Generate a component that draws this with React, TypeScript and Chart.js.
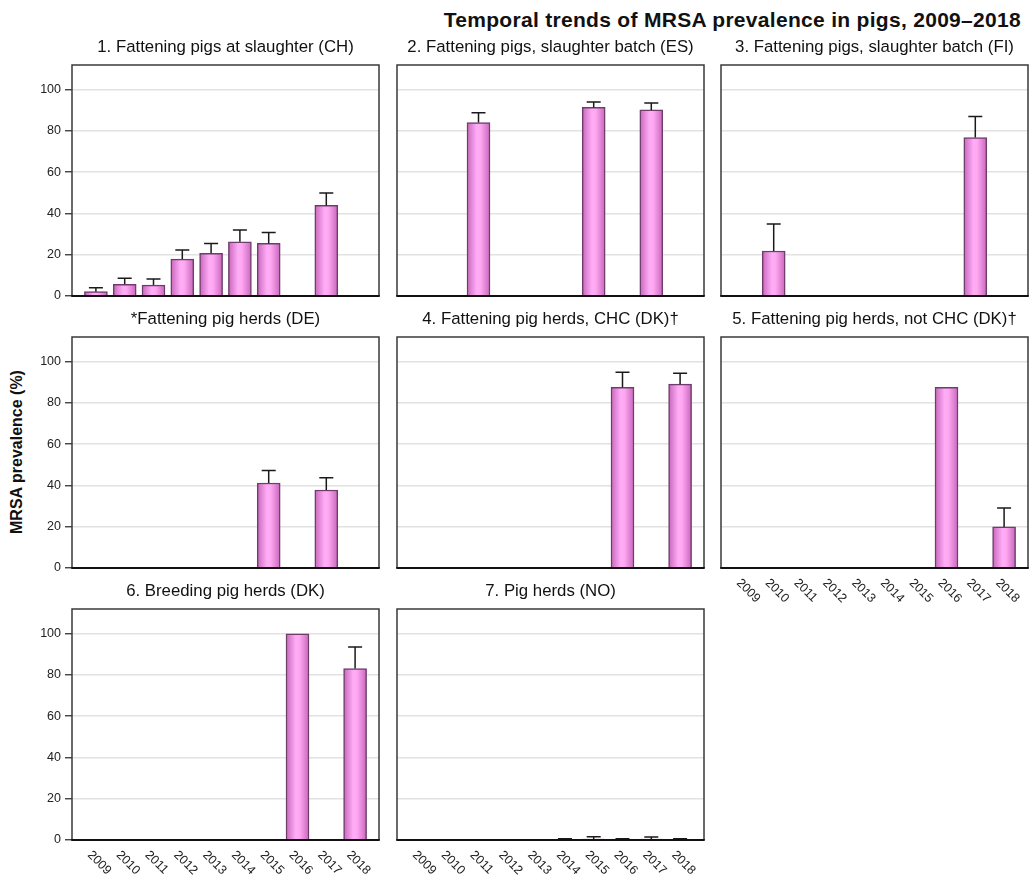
import React, { useEffect, useRef } from 'react';
import { Chart, registerables } from 'chart.js';

Chart.register(...registerables);

// ---------- data ----------
const years = ['2009', '2010', '2011', '2012', '2013', '2014', '2015', '2016', '2017', '2018'];
const yTicks = [0, 20, 40, 60, 80, 100];
const chartTitle = 'Temporal trends of MRSA prevalence in pigs, 2009–2018';
const yAxisTitle = 'MRSA prevalence (%)';
const panelTitles = [
  '1. Fattening pigs at slaughter (CH)',
  '2. Fattening pigs, slaughter batch (ES)',
  '3. Fattening pigs, slaughter batch (FI)',
  '*Fattening pig herds (DE)',
  '4. Fattening pig herds, CHC (DK)†',
  '5. Fattening pig herds, not CHC (DK)†',
  '6. Breeding pig herds (DK)',
  '7. Pig herds (NO)',
];

const chValues = [2.1, 5.7, 5.3, 17.9, 20.7, 26.3, 25.5, null, 43.9, null];
const chUpper = [4.0, 8.6, 8.2, 22.3, 25.5, 32.0, 30.8, null, 49.9, null];

const esValues = [null, null, 84.1, null, null, null, 91.4, null, 90.2, null];
const esUpper = [null, null, 88.8, null, null, null, 94.1, null, 93.6, null];

const fiValues = [null, 21.8, null, null, null, null, null, null, 76.8, null];
const fiUpper = [null, 34.9, null, null, null, null, null, null, 87.0, null];

const deValues = [null, null, null, null, null, null, 41.2, null, 37.8, null];
const deUpper = [null, null, null, null, null, null, 47.3, null, 43.8, null];

const dkChcValues = [null, null, null, null, null, null, null, 87.6, null, 89.1];
const dkChcUpper = [null, null, null, null, null, null, null, 94.9, null, 94.4];

const dkNotChcValues = [null, null, null, null, null, null, null, 87.6, null, 19.9];
const dkNotChcUpper = [null, null, null, null, null, null, null, null, null, 29.1];

const dkBreedValues = [null, null, null, null, null, null, null, 100, null, 83.1];
const dkBreedUpper = [null, null, null, null, null, null, null, null, null, 93.5];

const noValues = [null, null, null, null, null, 0.1, 0.5, 0.1, 0.5, 0.1];
const noUpper = [null, null, null, null, null, 0.6, 1.6, 0.6, 1.5, 0.6];

// ---------- layout / style ----------
const FONT = '"Liberation Sans", Arial, Helvetica, sans-serif';
const FRAME_LEFTS = [72, 397, 721];
const FRAME_TOPS = [65, 337, 609];
const FRAME_W = 307;
const FRAME_H = 231;
const AXIS_W = 72;
const TITLE_H = 32;
const BOTTOM_H = 45;
const RIGHT_PAD = 1;

type PanelDef = {
  title: string;
  values: (number | null)[];
  upper: (number | null)[];
  row: number;
  col: number;
  showY: boolean;
  showX: boolean;
};

const panels: PanelDef[] = [
  { title: panelTitles[0], values: chValues, upper: chUpper, row: 0, col: 0, showY: true, showX: false },
  { title: panelTitles[1], values: esValues, upper: esUpper, row: 0, col: 1, showY: false, showX: false },
  { title: panelTitles[2], values: fiValues, upper: fiUpper, row: 0, col: 2, showY: false, showX: false },
  { title: panelTitles[3], values: deValues, upper: deUpper, row: 1, col: 0, showY: true, showX: false },
  { title: panelTitles[4], values: dkChcValues, upper: dkChcUpper, row: 1, col: 1, showY: false, showX: false },
  { title: panelTitles[5], values: dkNotChcValues, upper: dkNotChcUpper, row: 1, col: 2, showY: false, showX: true },
  { title: panelTitles[6], values: dkBreedValues, upper: dkBreedUpper, row: 2, col: 0, showY: true, showX: true },
  { title: panelTitles[7], values: noValues, upper: noUpper, row: 2, col: 1, showY: false, showX: true },
];

const BAR_W = 23;

function PanelChart({ p }: { p: PanelDef }) {
  const ref = useRef<HTMLCanvasElement>(null);

  useEffect(() => {
    const canvas = ref.current;
    if (!canvas) return;

    const points = years
      .map((_, i) => ({ x: i, y: p.values[i] }))
      .filter((d) => d.y !== null && d.y !== undefined) as { x: number; y: number }[];

    const panelPlugin = {
      id: 'panelDecor',
      beforeDatasetsDraw(chart: any) {
        const { ctx } = chart;
        const meta = chart.getDatasetMeta(0);
        meta.data.forEach((el: any) => {
          const x = el.x;
          const w = el.width || BAR_W;
          if (!isFinite(x) || !isFinite(w)) return;
          const g = ctx.createLinearGradient(x - w / 2, 0, x + w / 2, 0);
          g.addColorStop(0, '#c766bb');
          g.addColorStop(0.42, '#ffacf6');
          g.addColorStop(0.58, '#ffa8f2');
          g.addColorStop(1, '#c866bc');
          el.options = Object.assign({}, el.options, { backgroundColor: g });
        });
      },
      afterDatasetsDraw(chart: any) {
        const { ctx, scales } = chart;
        const xs = scales.x;
        const ys = scales.y;
        ctx.save();
        ctx.strokeStyle = '#1a1a1a';
        ctx.lineWidth = 1.5;
        p.upper.forEach((u, i) => {
          const v = p.values[i];
          if (u === null || u === undefined || v === null || v === undefined) return;
          const x = xs.getPixelForValue(i);
          const y1 = ys.getPixelForValue(v);
          const y2 = ys.getPixelForValue(u);
          ctx.beginPath();
          ctx.moveTo(x, y1);
          ctx.lineTo(x, y2);
          ctx.moveTo(x - 7, y2);
          ctx.lineTo(x + 7, y2);
          ctx.stroke();
        });
        ctx.restore();
      },
      afterDraw(chart: any) {
        const { ctx, chartArea, scales } = chart;
        const { left, right, top, bottom } = chartArea;
        ctx.save();
        ctx.strokeStyle = '#3a3a3a';
        ctx.lineWidth = 1.5;
        ctx.beginPath();
        ctx.moveTo(left, bottom);
        ctx.lineTo(left, top);
        ctx.lineTo(right, top);
        ctx.lineTo(right, bottom);
        ctx.stroke();
        ctx.strokeStyle = '#111';
        ctx.lineWidth = 2;
        ctx.beginPath();
        ctx.moveTo(left - 0.75, bottom);
        ctx.lineTo(right + 0.75, bottom);
        ctx.stroke();

        if (p.showX) {
          const xs = scales.x;
          ctx.fillStyle = '#222';
          ctx.font = `12.5px ${FONT}`;
          ctx.textAlign = 'left';
          ctx.textBaseline = 'middle';
          years.forEach((lab, i) => {
            const cx = xs.getPixelForValue(i);
            ctx.save();
            ctx.translate(cx - 6.5, bottom + 13);
            ctx.rotate(Math.PI / 4);
            ctx.fillText(lab, 0, 0);
            ctx.restore();
          });
        }
        ctx.restore();
      },
    };

    const chart = new Chart(canvas, {
      type: 'bar',
      data: {
        datasets: [
          {
            data: points as any,
            barThickness: BAR_W,
            borderWidth: 1.5,
            borderColor: '#6e3d6c',
            backgroundColor: '#f2a0e6',
            borderSkipped: 'start',
          },
        ],
      },
      options: {
        responsive: false,
        animation: false,
        events: [],
        layout: { padding: { left: 0, right: RIGHT_PAD, top: 0, bottom: 0 } },
        plugins: {
          legend: { display: false },
          tooltip: { enabled: false },
          title: {
            display: true,
            text: p.title,
            fullSize: false,
            color: '#111',
            font: { family: FONT, size: 16.8, weight: 'normal', lineHeight: 1.2 },
            padding: { top: 4.4, bottom: 7.4 },
          },
        },
        scales: {
          x: {
            type: 'linear',
            offset: false,
            min: -0.83,
            max: 9.83,
            display: true,
            ticks: { display: false },
            grid: { display: false, drawTicks: false, offset: false },
            border: { display: false },
            afterFit: (s: any) => {
              s.height = BOTTOM_H;
            },
          },
          y: {
            min: 0,
            max: 112,
            afterBuildTicks: (s: any) => {
              s.ticks = yTicks.map((v) => ({ value: v }));
            },
            afterFit: (s: any) => {
              s.width = AXIS_W;
            },
            ticks: {
              display: p.showY,
              color: '#222',
              padding: 4,
              font: { family: FONT, size: 12.5 },
            },
            grid: {
              color: '#e2e2e2',
              lineWidth: 1.5,
              drawTicks: p.showY,
              tickLength: 7,
              tickColor: '#333',
              tickWidth: 1.3,
            },
            border: { display: false },
          },
        },
      },
      plugins: [panelPlugin],
    } as any);

    return () => chart.destroy();
  }, [p]);

  const left = FRAME_LEFTS[p.col] - AXIS_W;
  const top = FRAME_TOPS[p.row] - TITLE_H;
  const width = AXIS_W + FRAME_W + RIGHT_PAD;
  const height = TITLE_H + FRAME_H + BOTTOM_H;

  return (
    <canvas
      ref={ref}
      width={width}
      height={height}
      style={{ position: 'absolute', left, top, width, height }}
    />
  );
}

export default function App() {
  return (
    <div
      style={{
        position: 'absolute',
        left: 0,
        top: 0,
        width: 1029,
        height: 877,
        overflow: 'hidden',
        background: '#fff',
        fontFamily: FONT,
      }}
    >
      <div
        style={{
          position: 'absolute',
          left: 0,
          top: 8,
          width: 1021,
          textAlign: 'right',
          font: `bold 21px ${FONT}`,
          letterSpacing: '0.3px',
          lineHeight: '24px',
          color: '#111',
          whiteSpace: 'nowrap',
        }}
      >
        {chartTitle}
      </div>
      <div
        style={{
          position: 'absolute',
          left: 19 - 120,
          top: 452 - 11,
          width: 240,
          height: 22,
          lineHeight: '22px',
          textAlign: 'center',
          font: `bold 16px ${FONT}`,
          color: '#111',
          transform: 'rotate(-90deg)',
          whiteSpace: 'nowrap',
        }}
      >
        {yAxisTitle}
      </div>
      {panels.map((p, i) => (
        <PanelChart key={i} p={p} />
      ))}
    </div>
  );
}
